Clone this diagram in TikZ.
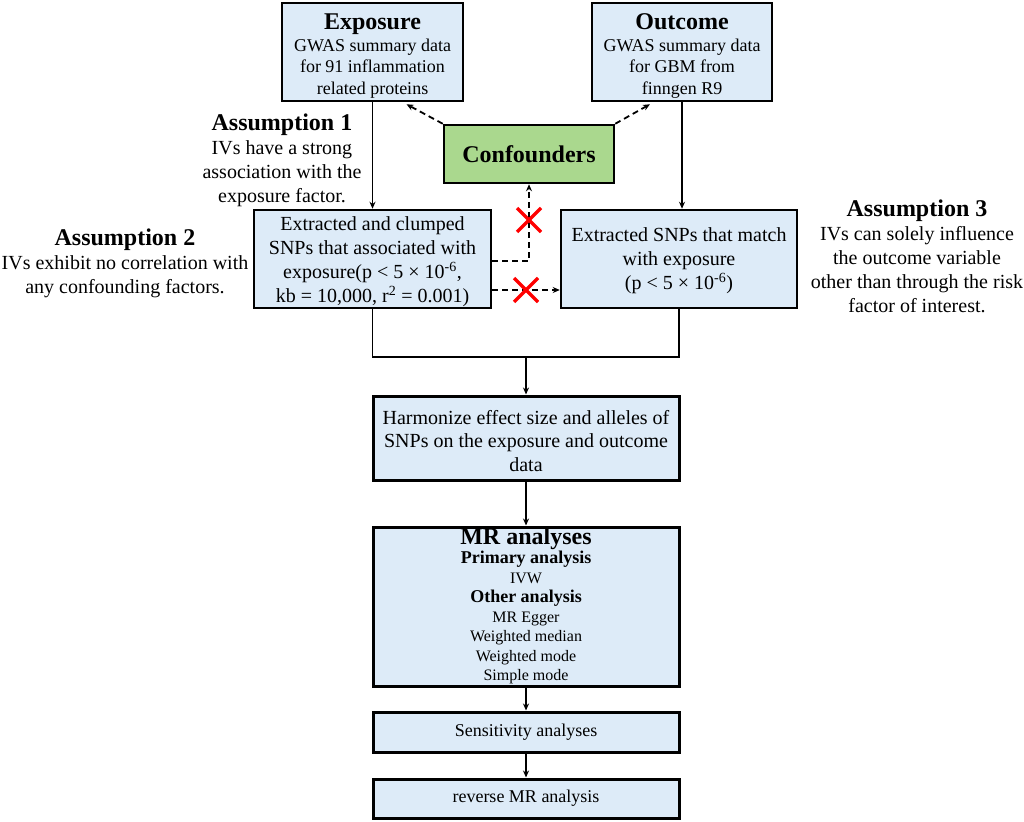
\documentclass[tikz,border=0pt]{standalone}
\usepackage{fontspec}
\setmainfont{Liberation Serif}
\usetikzlibrary{arrows.meta,calc}
\definecolor{boxblue}{RGB}{221,235,248}
\definecolor{boxgreen}{RGB}{170,216,142}
\tikzset{
  bluebox/.style={draw=black,line width=2.5pt,fill=boxblue,inner sep=0pt},
  thickbox/.style={bluebox,line width=3pt},
  greenbox/.style={draw=black,line width=2.5pt,fill=boxgreen,inner sep=0pt,
    font=\fontsize{24}{26}\selectfont\bfseries},
  txt/.style={align=center,inner sep=0pt,font=\fontsize{20}{24}\selectfont},
  smalltxt/.style={align=center,inner sep=0pt,font=\fontsize{18}{21.5}\selectfont},
  conn/.style={line width=1.5pt,-{Stealth[length=7pt,width=6pt]}},
  plainline/.style={line width=1.5pt},
  dasharrow/.style={line width=1.8pt,dash pattern=on 6pt off 4pt,-{Stealth[length=7pt,width=6pt]}},
  cross/.style={draw=red,line width=3.5pt},
  mrtext/.style={inner sep=0pt,font=\fontsize{16}{18}\selectfont},
}
\newcommand{\ttl}[1]{{\fontsize{24}{24}\selectfont\bfseries #1}}
\begin{document}
\begin{tikzpicture}[x=1pt,y=-1pt]
\useasboundingbox (0,0) rectangle (1024,821);
% top boxes
\node[bluebox,minimum width=181pt,minimum height=98pt] (expo) at (372.5,52) {};
\node[smalltxt] (expot) at (372.5,56)
  {\ttl{Exposure}\\GWAS summary data\\for 91 inflammation\\related proteins};
\node[bluebox,minimum width=180pt,minimum height=98pt] (outc) at (682,52) {};
\node[smalltxt] (outct) at (682,56)
  {\ttl{Outcome}\\GWAS summary data\\for GBM from\\finngen R9};
\node[greenbox,minimum width=170pt,minimum height=58pt] (conf) at (529,154) {Confounders};
% second row
\node[bluebox,minimum width=237pt,minimum height=98pt] (left) at (372.5,259) {};
\node[txt] (leftt) at (372.5,262)
  {Extracted and clumped\\SNPs that associated with\\exposure(p < 5 × 10\textsuperscript{-6},\\kb = 10,000, r\textsuperscript{2} = 0.001)};
\node[bluebox,minimum width=236pt,minimum height=98pt] (right) at (679,259) {};
\node[txt] (rightt) at (679,261)
  {Extracted SNPs that match\\with exposure\\(p < 5 × 10\textsuperscript{-6})};
% lower boxes
\node[thickbox,minimum width=306pt,minimum height=84pt] (harm) at (526,438) {};
\node[txt,font=\fontsize{20}{23.5}\selectfont] (harmt) at (526,441)
  {Harmonize effect size and alleles of\\SNPs on the exposure and outcome\\data};
\node[thickbox,minimum width=306pt,minimum height=159pt] (mr) at (526,606.5) {};
\node[thickbox,minimum width=306pt,minimum height=40pt,font=\fontsize{18}{20}\selectfont] (sens) at (526,732) {Sensitivity analyses};
\node[thickbox,minimum width=306pt,minimum height=39pt,font=\fontsize{18}{20}\selectfont] (rev) at (526,798.5) {reverse MR analysis};
% MR box text
\node[mrtext,font=\fontsize{24}{24}\selectfont\bfseries] (mr1) at (526,539) {MR analyses};
\node[mrtext,font=\fontsize{18}{18}\selectfont\bfseries] (mr2) at (526,559) {Primary analysis};
\node[mrtext] (mr3) at (526,578) {IVW};
\node[mrtext,font=\fontsize{18}{18}\selectfont\bfseries] (mr4) at (526,598) {Other analysis};
\node[mrtext] (mr5) at (526,619) {MR Egger};
\node[mrtext] (mr6) at (526,638) {Weighted median};
\node[mrtext] (mr7) at (526,658) {Weighted mode};
\node[mrtext] (mr8) at (526,677) {Simple mode};
% assumptions
\node[txt] (a1) at (282,160)
  {\ttl{Assumption 1}\\IVs have a strong\\association with the\\exposure factor.};
\node[txt] (a2) at (125,263)
  {\ttl{Assumption 2}\\IVs exhibit no correlation with\\any confounding factors.};
\node[txt] (a3) at (917,256)
  {\ttl{Assumption 3}\\IVs can solely influence\\the outcome variable\\other than through the risk\\factor of interest.};
% connectors
\draw[conn] (expo.south) -- (expo.south |- left.north);
\draw[conn] (outc.south) -- (outc.south |- right.north);
\coordinate (mid) at (526,357);
\draw[plainline] (left.south) |- (mid);
\draw[plainline] (right.south) |- (mid);
\draw[conn] (mid) -- (harm.north);
\draw[conn] (harm.south) -- (mr.north);
\draw[conn] (mr.south) -- (sens.north);
\draw[conn] (sens.south) -- (rev.north);
% confounder arrows
\draw[dasharrow] (conf.north west) -- ($(expo.south)+(34,2)$);
\draw[dasharrow] (conf.north east) -- ($(outc.south)+(-32,2)$);
\draw[dasharrow] ([yshift=-2pt]left.east) -| (conf.south);
\draw[dasharrow] ([yshift=-31pt]left.east) -- ([yshift=-31pt]right.west);
% crosses
\coordinate (c1) at (529,220);
\coordinate (c2) at (526,290);
\draw[cross] ($(c1)+(-12,-12)$) -- ($(c1)+(12,12)$);
\draw[cross] ($(c1)+(-12,12)$) -- ($(c1)+(12,-12)$);
\draw[cross] ($(c2)+(-12,-12)$) -- ($(c2)+(12,12)$);
\draw[cross] ($(c2)+(-12,12)$) -- ($(c2)+(12,-12)$);
\end{tikzpicture}
\end{document}
